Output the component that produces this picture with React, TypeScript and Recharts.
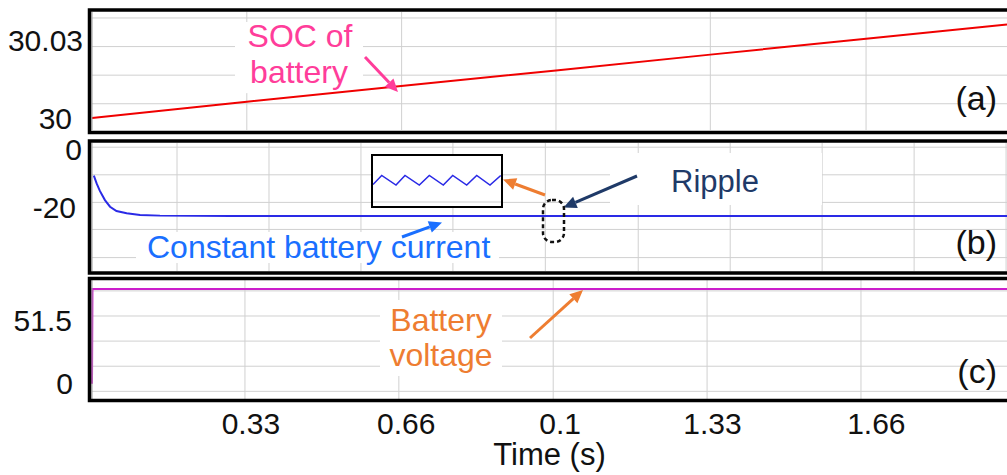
import { LineChart, Line, XAxis, YAxis, CartesianGrid, Label } from "recharts";

// time axis (s)
const timeDomain = [0, 1.98];
const timeTicks = [0.333, 0.667, 1, 1.333, 1.667];
const timeTickLabels = ["0.33", "0.66", "0.1", "1.33", "1.66"];

// (a) state of charge, %
const socTime = [0, 0.335, 0.669, 1.004, 1.338, 1.675, 1.98];
const socValue = [30.0, 30.0063, 30.0123, 30.0183, 30.0244, 30.0305, 30.036];
const socTicks = [30, 30.03];
const socGridY = [30, 30.0055, 30.011, 30.0165, 30.022, 30.0275, 30.033, 30.0385];
const socGridT = [0.335, 0.67, 1.004, 1.338, 1.675];

// (b) battery current, A
const currentTime = [0.004, 0.01, 0.017, 0.028, 0.039, 0.053, 0.075, 0.104, 0.147, 0.3, 0.6, 1.0, 1.4, 1.98];
const currentValue = [-9.1, -11.8, -14.4, -17.6, -19.9, -21.4, -22.2, -22.8, -23.0, -23.1, -23.1, -23.1, -23.1, -23.1];
const currentTicks = [0, -20];
const currentGridY = [0.8, -4.0, -8.8, -13.6, -18.4, -23.1, -27.8, -32.6, -37.6];
const currentGridT = [0.184, 0.383, 0.582, 0.781, 0.981, 1.182, 1.381, 1.58, 1.779, 1.978];

// zoomed-in ripple on the current
const rippleTime = [0, 8.7, 23, 32, 46.3, 56.3, 70.3, 79.7, 93.7, 103.7, 117, 127.7];
const rippleValue = [-23.17, -22.99, -23.18, -22.99, -23.18, -22.99, -23.18, -22.99, -23.18, -22.99, -23.18, -22.99];
const rippleGridY = [-22.78, -23.11, -23.52];

// (c) battery voltage, V
const voltageTime = [0, 0.001, 0.5, 1.0, 1.5, 1.98];
const voltageValue = [0, 76.6, 76.6, 76.6, 76.6, 76.6];
const voltageTicks = [0, 51.5];
const voltageGridY = [75, 54.7, 34.4, 14.1, -6.2];
const voltageGridT = [0.331, 0.664, 0.998, 1.331, 1.664];

const socData = socTime.map((t, i) => ({ t, v: socValue[i] }));
const currentData = currentTime.map((t, i) => ({ t, v: currentValue[i] }));
const rippleData = rippleTime.map((t, i) => ({ t, v: rippleValue[i] }));
const voltageData = voltageTime.map((t, i) => ({ t, v: voltageValue[i] }));

const FONT = "'Liberation Sans', Arial, sans-serif";
const GRID = "#d0d0d0";

// how far each y label's right edge sits left of the plot edge
const socLabelGap: Record<string, number> = { "30.03": 9, "30": 20 };
const currentLabelGap: Record<string, number> = { "0": 10, "-20": 16 };
const voltageLabelGap: Record<string, number> = { "51.5": 20, "0": 19 };
// nudge of the time labels from their grid lines
const timeLabelShift: Record<string, number> = { "0.33": 5, "0.66": 6, "0.1": 6, "1.33": 4.5, "1.66": 14 };

const fmt = (v: number) => String(v);

function yTick(gaps: Record<string, number>) {
  return (p: any) => {
    const label = fmt(p.payload.value);
    return (
      <text
        x={92 - (gaps[label] ?? 10)}
        y={p.y}
        dy="0.36em"
        textAnchor="end"
        fontSize={30}
        fontFamily={FONT}
        fill="#111"
      >
        {label}
      </text>
    );
  };
}

function TimeTick(p: any) {
  const i = timeTicks.indexOf(p.payload.value);
  const label = timeTickLabels[i] ?? "";
  return (
    <text
      x={p.x + (timeLabelShift[label] ?? 0)}
      y={p.y}
      dy={35}
      textAnchor="middle"
      fontSize={30}
      fontFamily={FONT}
      fill="#111"
    >
      {label}
    </text>
  );
}

function Arrow({ x1, y1, x2, y2, color }: { x1: number; y1: number; x2: number; y2: number; color: string }) {
  const a = Math.atan2(y2 - y1, x2 - x1);
  const len = 13;
  const half = 6;
  const bx = x2 - len * Math.cos(a);
  const by = y2 - len * Math.sin(a);
  const px = -Math.sin(a) * half;
  const py = Math.cos(a) * half;
  return (
    <g>
      <line x1={x1} y1={y1} x2={bx} y2={by} stroke={color} strokeWidth={3} />
      <polygon points={`${x2},${y2} ${bx + px},${by + py} ${bx - px},${by - py}`} fill={color} />
    </g>
  );
}

export default function App() {
  return (
    <div
      style={{
        position: "fixed",
        left: 0,
        top: 0,
        width: 1007,
        height: 475,
        overflow: "hidden",
        background: "#fff",
        fontFamily: FONT,
      }}
    >
      {/* (a) SOC */}
      <div style={{ position: "absolute", left: 0, top: 0 }}>
        <LineChart width={1007} height={140} data={socData} margin={{ top: 12, right: 0, bottom: 10, left: 0 }}>
          <CartesianGrid stroke={GRID} horizontalValues={socGridY} verticalValues={socGridT} />
          <XAxis dataKey="t" type="number" domain={timeDomain} hide />
          <YAxis
            type="number"
            domain={[29.9954, 30.0408]}
            ticks={socTicks}
            width={92}
            tick={yTick(socLabelGap)}
            tickLine={false}
            axisLine={{ stroke: "#999" }}
            allowDataOverflow
          />
          <Line dataKey="v" stroke="#f00000" strokeWidth={2} dot={false} isAnimationActive={false} />
        </LineChart>
      </div>

      {/* (b) battery current */}
      <div style={{ position: "absolute", left: 0, top: 133 }}>
        <LineChart width={1007} height={140} data={currentData} margin={{ top: 10, right: 0, bottom: 2, left: 0 }}>
          <CartesianGrid stroke={GRID} horizontalValues={currentGridY} verticalValues={currentGridT} />
          <XAxis dataKey="t" type="number" domain={timeDomain} hide />
          <YAxis
            type="number"
            domain={[-42.26, 2.26]}
            ticks={currentTicks}
            width={92}
            tick={yTick(currentLabelGap)}
            tickLine={false}
            axisLine={{ stroke: "#999" }}
            allowDataOverflow
          />
          <Line dataKey="v" stroke="#2a2ae6" strokeWidth={2} dot={false} isAnimationActive={false} />
        </LineChart>
      </div>

      {/* (c) battery voltage */}
      <div style={{ position: "absolute", left: 0, top: 270 }}>
        <LineChart width={1007} height={205} data={voltageData} margin={{ top: 10, right: 0, bottom: 0, left: 0 }}>
          <CartesianGrid stroke={GRID} horizontalValues={voltageGridY} verticalValues={voltageGridT} />
          <XAxis
            dataKey="t"
            type="number"
            domain={timeDomain}
            ticks={timeTicks}
            height={76}
            tick={TimeTick}
            tickLine={false}
            axisLine={false}
            tickSize={0}
            tickMargin={0}
          >
            <Label
              value="Time (s)"
              position="insideBottom"
              offset={10}
              fontSize={31}
              fontFamily={FONT}
              fill="#111"
            />
          </XAxis>
          <YAxis
            type="number"
            domain={[-12.4, 83.8]}
            ticks={voltageTicks}
            width={92}
            tick={yTick(voltageLabelGap)}
            tickLine={false}
            axisLine={{ stroke: "#999" }}
            allowDataOverflow
          />
          <Line dataKey="v" stroke="#cc1ecc" strokeWidth={2} dot={false} isAnimationActive={false} />
        </LineChart>
      </div>

      {/* frames, callouts and panel tags */}
      <svg
        width={1007}
        height={475}
        style={{ position: "absolute", left: 0, top: 0, pointerEvents: "none" }}
        fontFamily={FONT}
      >
        <rect x={89.5} y={10} width={940} height={122.5} fill="none" stroke="#000" strokeWidth={3.5} />
        <rect x={89.5} y={141} width={940} height={132} fill="none" stroke="#000" strokeWidth={3.5} />
        <rect x={89.5} y={278.5} width={940} height={122} fill="none" stroke="#000" strokeWidth={3.5} />

        {/* SOC callout, backing kept clear of the trace */}
        <polygon points="235,22 363,22 363,85 235,94" fill="#fff" />
        <text x={300} y={47} textAnchor="middle" fontSize={32} fill="#ff3d9a">SOC of</text>
        <text x={299} y={83} textAnchor="middle" fontSize={32} fill="#ff3d9a">battery</text>
        <Arrow x1={365} y1={57} x2={398} y2={92} color="#ff3d9a" />

        {/* current callouts */}
        <rect x={610} y={153} width={212} height={52} fill="#fff" />
        <text x={671} y={192} fontSize={31} fill="#1f3a68">Ripple</text>
        <rect x={136} y={232} width={363} height={31} fill="#fff" />
        <text x={147} y={258} fontSize={32} fill="#1a6fff">Constant battery current</text>
        <Arrow x1={402} y1={237} x2={442} y2={222.5} color="#1a6fff" />
        <Arrow x1={545} y1={195} x2={503} y2={179.5} color="#ee7d31" />
        <Arrow x1={637} y1={176} x2={563.5} y2={207.5} color="#1f3a68" />
        <rect x={543} y={200} width={21} height={42} rx={9} fill="none" stroke="#111" strokeWidth={2.5} strokeDasharray="4 3" />

        {/* voltage callout */}
        <rect x={380} y={300} width={122} height={76} fill="#fff" />
        <text x={441} y={331} textAnchor="middle" fontSize={32} fill="#ee7d31">Battery</text>
        <text x={441} y={366} textAnchor="middle" fontSize={32} fill="#ee7d31">voltage</text>
        <Arrow x1={530} y1={338} x2={583} y2={290} color="#ee7d31" />

        <text x={997} y={110} textAnchor="end" fontSize={34} fill="#111">(a)</text>
        <text x={997} y={254} textAnchor="end" fontSize={34} fill="#111">(b)</text>
        <text x={997} y={383} textAnchor="end" fontSize={34} fill="#111">(c)</text>
      </svg>

      {/* ripple inset */}
      <div
        style={{
          position: "absolute",
          left: 371,
          top: 154,
          width: 132,
          height: 54,
          border: "2px solid #000",
          boxSizing: "border-box",
          background: "#fff",
        }}
      >
        <LineChart width={128} height={50} data={rippleData} margin={{ top: 0, right: 0, bottom: 0, left: 0 }}>
          <CartesianGrid stroke={GRID} vertical={false} horizontalValues={rippleGridY} />
          <XAxis dataKey="t" type="number" domain={[0, 128]} hide />
          <YAxis type="number" domain={[-23.6, -22.6]} hide />
          <Line dataKey="v" stroke="#2a2ae6" strokeWidth={1.5} dot={false} isAnimationActive={false} />
        </LineChart>
      </div>
    </div>
  );
}
